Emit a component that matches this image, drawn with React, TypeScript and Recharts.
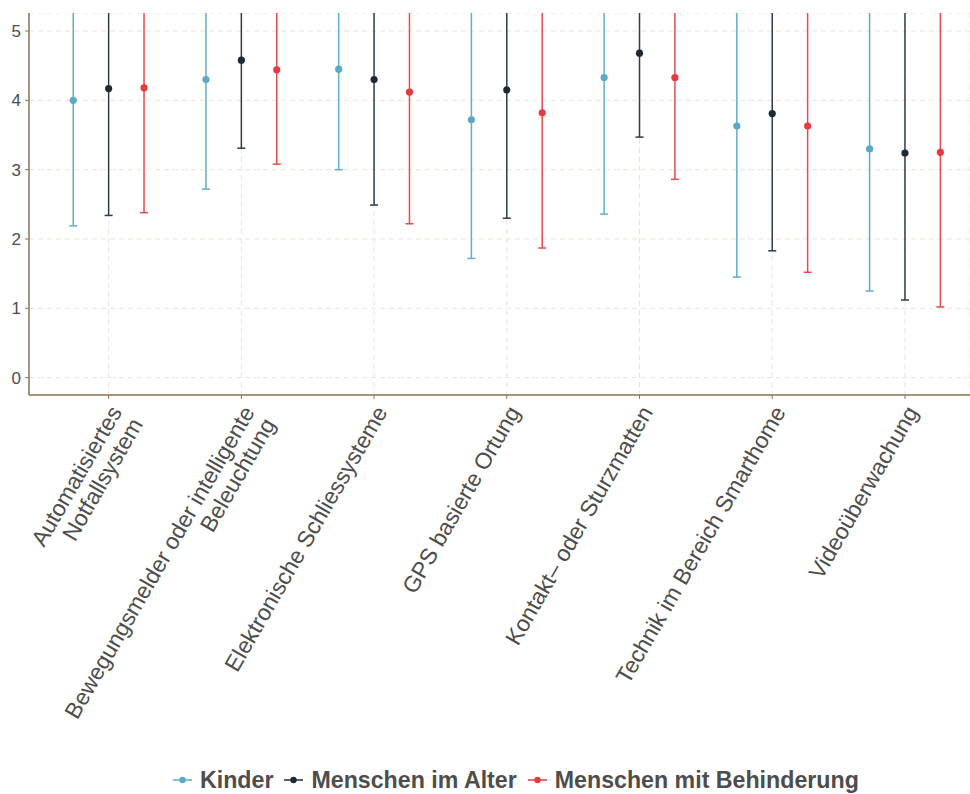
import React from "react";
import {
  ComposedChart,
  Scatter,
  ErrorBar,
  XAxis,
  YAxis,
  CartesianGrid,
  Legend,
} from "recharts";

const categories = [
  "Automatisiertes\nNotfallsystem",
  "Bewegungsmelder oder intelligente\nBeleuchtung",
  "Elektronische Schliessysteme",
  "GPS basierte Ortung",
  "Kontakt– oder Sturzmatten",
  "Technik im Bereich Smarthome",
  "Videoüberwachung",
];

const kinderMean = [4.0, 4.3, 4.45, 3.72, 4.33, 3.63, 3.3];
const kinderSd = [1.81, 1.58, 1.45, 2.0, 1.97, 2.18, 2.05];
const alterMean = [4.17, 4.58, 4.3, 4.15, 4.68, 3.81, 3.24];
const alterSd = [1.83, 1.27, 1.81, 1.85, 1.21, 1.98, 2.12];
const behMean = [4.18, 4.44, 4.12, 3.82, 4.33, 3.63, 3.25];
const behSd = [1.8, 1.36, 1.9, 1.95, 1.47, 2.11, 2.23];

const yTicks = [0, 1, 2, 3, 4, 5];

const groups = [
  { name: "Kinder", color: "#5BA9C5", bar: "#62ADC8", mean: kinderMean, sd: kinderSd },
  { name: "Menschen im Alter", color: "#1D2B36", bar: "#2E3D48", mean: alterMean, sd: alterSd },
  { name: "Menschen mit Behinderung", color: "#E8393E", bar: "#EA4A4F", mean: behMean, sd: behSd },
];

const dodge = 0.8 / 3;
const axisColor = "#8A7356";
const textColor = "#4D4D4D";
const font = "'Liberation Sans', Arial, Helvetica, sans-serif";

function buildSeries(gi: number) {
  const g = groups[gi];
  return categories.map((c, i) => ({
    x: i + 1 + (gi - 1) * dodge,
    y: g.mean[i],
    err: g.sd[i],
  }));
}

const XTick = (props: any) => {
  const { x, y, payload } = props;
  const label = categories[Math.round(payload.value) - 1];
  if (!label) return null;
  const lines = label.split("\n");
  return (
    <g>
      {lines.map((ln: string, i: number) => {
        const tx = x + 14 + i * 24 * 0.866;
        const ty = y + 11 + i * 24 * 0.5;
        return (
          <text
            key={i}
            x={tx}
            y={ty}
            transform={`rotate(-60, ${tx}, ${ty})`}
            textAnchor="end"
            fontSize={22.8}
            fontFamily={font}
            fill={textColor}
          >
            {ln}
          </text>
        );
      })}
    </g>
  );
};

const LegendContent = () => (
  <div
    style={{
      height: 28,
      display: "flex",
      alignItems: "center",
      paddingLeft: 173,
      fontFamily: font,
      fontWeight: "bold",
      fontSize: 23.2,
      color: textColor,
      whiteSpace: "nowrap",
    }}
  >
    {groups.map((g) => (
      <div key={g.name} style={{ display: "flex", alignItems: "center", marginRight: 11 }}>
        <svg width={19} height={10} style={{ marginRight: 8 }}>
          <line x1={0} y1={5} x2={19} y2={5} stroke={g.color} strokeWidth={1.5} />
          <circle cx={9.5} cy={5} r={3.2} fill={g.color} />
        </svg>
        <span>{g.name}</span>
      </div>
    ))}
  </div>
);

export default function App() {
  return (
    <div
      style={{
        position: "absolute",
        left: 0,
        top: 0,
        width: 970,
        height: 794,
        fontFamily: font,
        background: "#fff",
      }}
    >
      <div
        style={{
          position: "absolute",
          left: 0,
          top: 13,
          width: 970,
          height: 781,
          overflow: "hidden",
        }}
      >
        <ComposedChart
          width={970}
          height={781}
          margin={{ top: 0, right: 0, bottom: 0, left: 0 }}
        >
          <CartesianGrid stroke="#EFE3D6" strokeDasharray="5 4" strokeWidth={1} />
          <XAxis
            type="number"
            dataKey="x"
            domain={[0.4, 7.49]}
            allowDataOverflow
            ticks={[1, 2, 3, 4, 5, 6, 7]}
            interval={0}
            height={371}
            tickSize={4}
            tickMargin={2}
            axisLine={{ stroke: axisColor, strokeWidth: 1.5 }}
            tickLine={{ stroke: axisColor }}
            tick={<XTick />}
          />
          <YAxis
            type="number"
            dataKey="y"
            domain={[-0.25, 5.26]}
            allowDataOverflow
            ticks={yTicks}
            width={29}
            tickSize={4}
            tickMargin={4}
            axisLine={{ stroke: axisColor, strokeWidth: 1.5 }}
            tickLine={{ stroke: axisColor }}
            tick={{ fontSize: 17, fill: textColor, fontFamily: font }}
          />
          {groups.map((g, gi) => (
            <Scatter
              key={g.name}
              name={g.name}
              data={buildSeries(gi)}
              fill={g.color}
              isAnimationActive={false}
              shape={(p: any) => <circle cx={p.cx} cy={p.cy} r={3.6} fill={g.color} />}
            >
              <ErrorBar
                dataKey="err"
                direction="y"
                width={4}
                stroke={g.bar}
                strokeWidth={1.5}
                isAnimationActive={false}
              />
            </Scatter>
          ))}
          <Legend
            verticalAlign="bottom"
            wrapperStyle={{ height: 28 }}
            content={<LegendContent />}
          />
        </ComposedChart>
      </div>
    </div>
  );
}
